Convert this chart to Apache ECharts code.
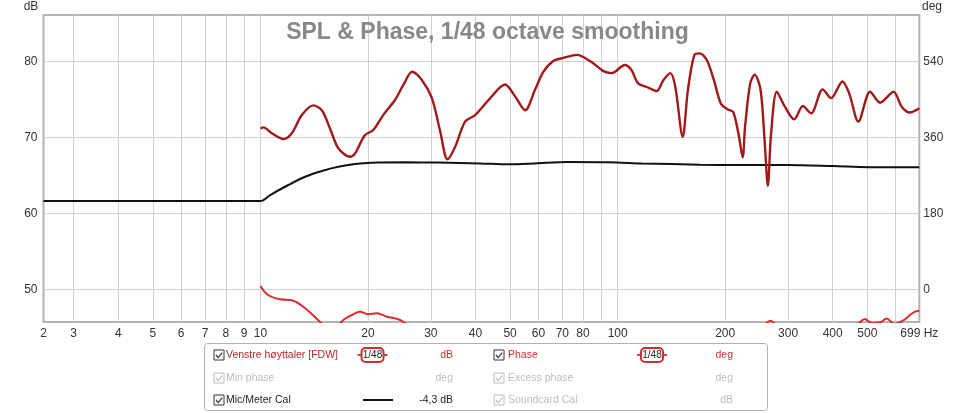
<!DOCTYPE html>
<html><head><meta charset="utf-8">
<script src="https://cdn.jsdelivr.net/npm/echarts@6/dist/echarts.min.js"></script>
<style>html,body{margin:0;padding:0;background:#fff}#c{width:975px;height:413px}</style>
</head><body><div id="c"></div>
<script>
// ---------- data ----------
const titleText = 'SPL & Phase, 1/48 octave smoothing';
const freqMin = 2.47, freqMax = 699;
const gridFreqs = [3,4,5,6,7,8,9,10,20,30,40,50,60,70,80,90,100,200,300,400,500,600];
const labelFreqs = [3,4,5,6,7,8,9,10,20,30,40,50,60,70,80,100,200,300,400,500];
const minLabel = '2';
const maxLabel = '699 Hz';
const dbMin = 45.69, dbMax = 86.16;
const dbTicks = [50,60,70,80];
const degTicks = [0,180,360,540];

// Venstre høyttaler [FDW] (dB)
const splFreq = [10,10.2,10.76,11.6,12.24,13.06,14.07,14.86,15.66,16.52,17.82,18.4,19.6,20.7,22.09,23.8,25.1,26.6,28.3,30.2,31.8,33.4,35.1,37.4,39.9,43.5,48.4,51.7,55.1,58.7,62.0,66.2,70.5,76.9,83.7,91.0,96.2,104.8,109.3,114.1,121.8,128.6,134.4,140.6,145.0,152.1,157.3,164.0,169.9,177.8,185.9,194.5,203.5,210.5,217.8,223.9,227.3,235.0,241.9,251.2,257.8,263.3,268.9,278.9,293.9,312,330,348,375,396,426,445,472,509,543,592,624,658,699];
const splDb = [71.2,71.35,70.56,69.8,70.56,72.97,74.25,73.6,71.2,68.6,67.48,67.9,70.3,71.0,73.0,74.95,76.9,78.68,77.6,75.2,71.0,67.14,68.8,72.1,72.97,74.95,77.0,75.4,73.6,76.3,78.7,80.13,80.5,80.9,80.1,78.8,78.5,79.56,78.9,77.15,76.6,76.14,77.6,78.5,76.7,70.1,76.3,80.9,81.1,80.2,77.6,74.5,73.7,73.4,70.56,67.4,71.4,77.15,78.3,76.3,69.7,63.66,70.56,76.05,74.07,72.4,74.16,73.2,76.36,75.2,77.4,75.8,72.1,76.05,74.6,76.05,74.07,73.3,73.86];

// Phase (deg)
const phaseFreq = [10,10.5,11.35,12.37,13.35,14.5,15.8,17.07,18.03,19.0,20.0,21.2,22.6,24.6,27,35,60,120,220,255,268,282,380,470,492,515,545,566,595,629,658,680,699];
const phaseDeg = [7.8,-13.5,-23.7,-27,-45,-72.8,-100,-72.8,-61,-53,-59.3,-57,-65,-72.8,-95,-130,-150,-150,-120,-88,-74.5,-88,-120,-82,-70.5,-80,-78,-69,-82,-74.5,-61,-53,-50.7];

// Mic/Meter Cal (dB)
const calFreq = [2.47,10,10.65,11.97,13.34,14.86,16.52,18.4,20.5,25.4,31.5,41.2,49.5,58.7,72.6,94.2,117,170,204,300,401,504,699];
const calDb = [61.64,61.64,62.43,63.75,64.84,65.6,66.16,66.52,66.69,66.74,66.7,66.6,66.48,66.6,66.78,66.74,66.6,66.42,66.4,66.4,66.25,66.1,66.08];

// ---------- build ----------
const L = Math.log10;
const xMin = L(freqMin), xMax = L(freqMax);
const pairs = (fs, vs) => fs.map((f, i) => [L(f), vs[i]]);
const degMin = (dbMin - 50) * 18, degMax = (dbMax - 50) * 18;

const FONT = 'Liberation Sans, Arial, sans-serif';
const RED1 = '#b42828', RED2 = '#cc3030', GRAY = '#bcbcbc', DARK = '#222';

function checkbox(x, y, color) {
  return [
    {type:'rect', shape:{x:x, y:y, width:10, height:10}, style:{fill:'#fff', stroke:color, lineWidth:1}},
    {type:'polyline', shape:{points:[[x+2,y+5],[x+4.2,y+7.6],[x+8.3,y+2.6]]}, style:{stroke:color, lineWidth:1.2, fill:null}}
  ];
}
function txt(x, y, s, color, align) {
  return {type:'text', x:x, y:y, style:{text:s, fill:color, font:'10.5px ' + FONT, textAlign:align || 'left', textVerticalAlign:'middle'}};
}
function smoothIcon(cx, cy, color) {
  return [
    {type:'line', shape:{x1:cx-15, y1:cy, x2:cx+15, y2:cy}, style:{stroke:color, lineWidth:1.8}},
    {type:'rect', shape:{x:cx-11, y:cy-7, width:22, height:14, r:4}, style:{fill:'#fff', stroke:color, lineWidth:2}},
    {type:'text', x:cx, y:cy, style:{text:'1/48', fill:'#222', font:'10px ' + FONT, textAlign:'center', textVerticalAlign:'middle'}}
  ];
}
const r1 = 355, r2 = 378, r3 = 400;
const c1 = 214, c2 = 494;
const legendEls = [].concat(
  [{type:'rect', shape:{x:204.5, y:343.5, width:563, height:67, r:3}, style:{fill:'#fff', stroke:'#b0b0b0', lineWidth:1}}],
  checkbox(c1, r1-5, '#333'), [txt(c1+12, r1, 'Venstre høyttaler [FDW]', RED1)], smoothIcon(372.5, r1, RED2), [txt(453, r1, 'dB', RED2, 'right')],
  checkbox(c2, r1-5, '#333'), [txt(c2+14, r1, 'Phase', RED2)], smoothIcon(652, r1, RED2), [txt(733, r1, 'deg', RED2, 'right')],
  checkbox(c1, r2-5, GRAY), [txt(c1+12, r2, 'Min phase', GRAY), txt(453, r2, 'deg', GRAY, 'right')],
  checkbox(c2, r2-5, GRAY), [txt(c2+14, r2, 'Excess phase', GRAY), txt(733, r2, 'deg', GRAY, 'right')],
  checkbox(c1, r3-5, '#333'), [txt(c1+12, r3, 'Mic/Meter Cal', DARK),
    {type:'line', shape:{x1:363, y1:r3, x2:393, y2:r3}, style:{stroke:'#111', lineWidth:2}},
    txt(453, r3, '-4,3 dB', DARK, 'right')],
  checkbox(c2, r3-5, GRAY), [txt(c2+14, r3, 'Soundcard Cal', GRAY), txt(733, r3, 'dB', GRAY, 'right')]
);

const chart = echarts.init(document.getElementById('c'), null, {renderer:'canvas'});
chart.setOption({
  animation: false,
  backgroundColor: '#fff',
  title: {text: titleText, left: 'center', top: 16,
    textStyle: {color:'#888', fontSize: 23, fontWeight:'bold', fontFamily: FONT}},
  grid: {left: 43.5, right: 55.7, top: 15, bottom: 91, show: true, borderColor:'#b4b4b4', borderWidth: 2, backgroundColor:'#fff'},
  xAxis: {
    type:'value', min: xMin, max: xMax,
    axisLine:{show:false},
    axisTick:{show:false, customValues: gridFreqs.map(L)},
    splitLine:{show:true, lineStyle:{color:'#d0d0d0', width:1}},
    axisLabel:{customValues: [xMin].concat(labelFreqs.map(L), [xMax]), margin: 6, color:'#333', fontSize: 12, fontFamily: FONT,
      formatter: v => Math.abs(v - xMin) < 1e-6 ? minLabel : (Math.abs(v - xMax) < 1e-6 ? maxLabel : String(Math.round(Math.pow(10, v))))}
  },
  yAxis: [
    {type:'value', min: dbMin, max: dbMax, axisLine:{show:false},
      axisTick:{show:false, customValues: dbTicks},
      splitLine:{show:true, lineStyle:{color:'#d0d0d0', width:1}},
      axisLabel:{customValues: dbTicks, margin: 6, color:'#333', fontSize: 12, fontFamily: FONT}},
    {type:'value', position:'right', min: degMin, max: degMax, axisLine:{show:false},
      axisTick:{show:false, customValues: degTicks},
      splitLine:{show:false},
      axisLabel:{customValues: degTicks, margin: 4, color:'#333', fontSize: 12, fontFamily: FONT}}
  ],
  graphic: [
    {type:'text', x:31, y:7, style:{text:'dB', fill:'#333', font:'12px ' + FONT, textAlign:'center', textVerticalAlign:'middle'}},
    {type:'text', x:922, y:7, style:{text:'deg', fill:'#333', font:'12px ' + FONT, textAlign:'left', textVerticalAlign:'middle'}}
  ].concat(legendEls),
  series: [
    {name:'Mic/Meter Cal', type:'line', yAxisIndex:0, data: pairs(calFreq, calDb), showSymbol:false, smooth:0.3,
      lineStyle:{color:'#111', width:2}, itemStyle:{color:'#111'}},
    {name:'Phase', type:'line', yAxisIndex:1, data: pairs(phaseFreq, phaseDeg), showSymbol:false, smooth:0.35, clip:true,
      lineStyle:{color:'#e02a2a', width:2}, itemStyle:{color:'#e02a2a'}},
    {name:'Venstre høyttaler [FDW]', type:'line', yAxisIndex:0, data: pairs(splFreq, splDb), showSymbol:false, smooth:0.3,
      lineStyle:{color:'#a01a1a', width:2.4}, itemStyle:{color:'#a01a1a'}}
  ]
});
</script></body></html>
